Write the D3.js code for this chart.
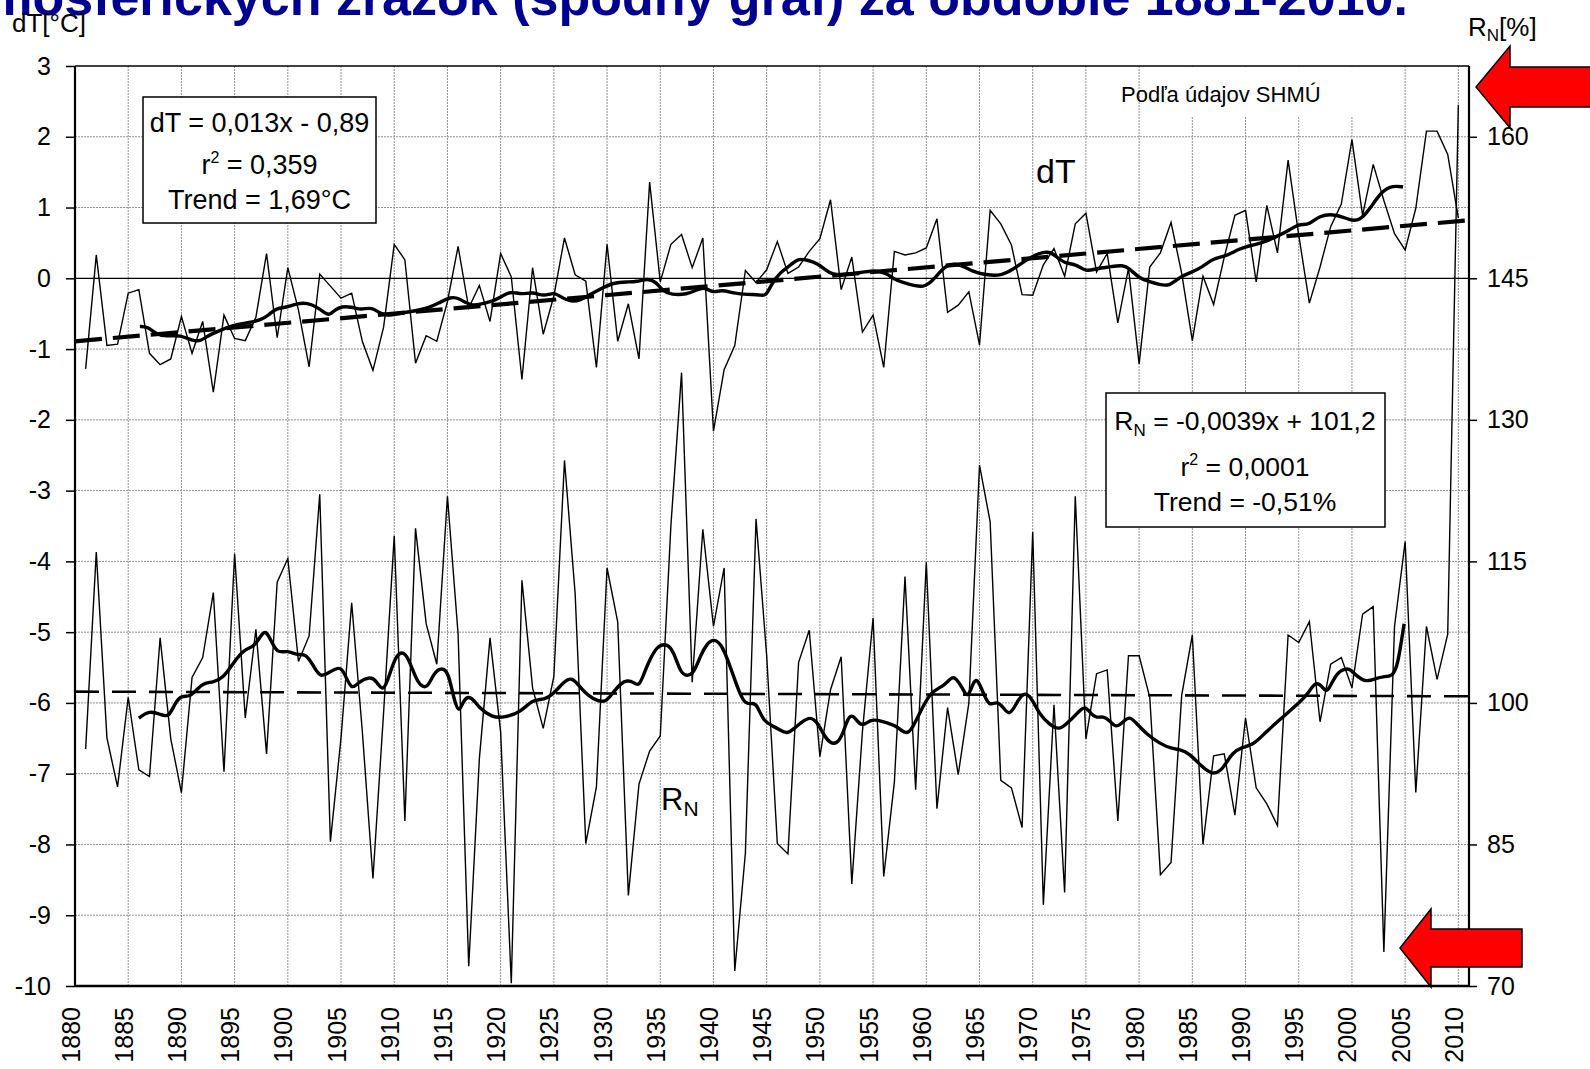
<!DOCTYPE html>
<html>
<head>
<meta charset="utf-8">
<script src="https://cdn.jsdelivr.net/npm/d3@7"></script>
<style>
  body { margin: 0; background: #fff; }
  svg { display: block; font-family: "Liberation Sans", Arial, sans-serif; }
  .grid line { stroke: #8f8f8f; stroke-width: 1; stroke-dasharray: 2,1; }
  .axis text { font-size: 25px; fill: #000; }
  .axis line { stroke: #000; stroke-width: 1.5; }
</style>
</head>
<body>
<script>
// Years of the annual series
let years = d3.range(1881, 2011);

// Temperature deviation dT [°C], annual values 1881-2010
let dT = [
  -1.28, 0.33, -0.95, -0.93, -0.21, -0.16, -1.06, -1.22, -1.14, -0.54,
  -1.06, -0.61, -1.61, -0.52, -0.85, -0.88, -0.55, 0.35, -0.84, 0.15,
  -0.45, -1.25, 0.06, -0.11, -0.28, -0.21, -0.89, -1.30, -0.69, 0.48,
  0.26, -1.20, -0.81, -0.89, -0.33, 0.45, -0.42, -0.10, -0.61, 0.35,
  0.02, -1.43, 0.15, -0.79, -0.25, 0.57, 0.05, -0.04, -1.26, 0.48,
  -0.89, -0.36, -1.14, 1.36, -0.05, 0.48, 0.62, 0.15, 0.57, -2.16,
  -1.29, -0.95, 0.11, -0.06, 0.12, 0.52, 0.07, 0.16, 0.38, 0.56,
  1.11, -0.16, 0.30, -0.76, -0.52, -1.26, 0.38, 0.33, 0.36, 0.43,
  0.84, -0.48, -0.38, -0.19, -0.94, 0.96, 0.77, 0.47, -0.23, -0.24,
  0.19, 0.42, 0.03, 0.77, 0.92, 0.09, 0.35, -0.63, 0.14, -1.21,
  0.16, 0.36, 0.79, 0.07, -0.88, 0.03, -0.37, 0.30, 0.89, 0.96,
  -0.05, 1.03, 0.36, 1.67, 0.61, -0.35, 0.16, 0.73, 1.05, 1.96,
  0.89, 1.61, 1.10, 0.63, 0.40, 0.99, 2.08, 2.08, 1.75, 0.85
];

// Precipitation ratio RN [%], annual values 1881-2010
let rn = [
  95.1, 116.0, 96.3, 91.1, 100.6, 92.9, 92.2, 106.9, 96.2, 90.5,
  102.7, 104.8, 111.7, 92.7, 115.8, 98.4, 107.8, 94.6, 112.8, 115.3,
  104.4, 107.1, 122.1, 85.3, 96.3, 110.6, 97.0, 81.4, 99.0, 117.7,
  87.5, 118.5, 108.4, 104.1, 121.9, 107.3, 72.1, 94.1, 106.9, 96.9,
  70.3, 113.0, 101.6, 97.3, 102.8, 125.7, 111.6, 85.1, 91.1, 114.3,
  108.6, 79.6, 91.4, 94.9, 96.5, 118.8, 135.0, 102.2, 118.4, 108.1,
  114.3, 71.6, 84.1, 119.5, 105.0, 85.1, 84.0, 104.3, 107.7, 94.3,
  101.4, 104.9, 80.8, 97.0, 109.0, 81.6, 91.6, 113.4, 90.8, 114.9,
  88.8, 99.5, 92.4, 100.0, 125.2, 119.2, 91.8, 91.0, 86.8, 118.1,
  78.6, 99.8, 79.9, 121.9, 96.2, 103.1, 103.5, 87.5, 105.0, 105.0,
  100.6, 81.8, 83.1, 100.8, 107.2, 85.0, 94.4, 94.6, 88.1, 98.4,
  91.0, 89.3, 87.0, 107.2, 106.4, 108.6, 98.0, 104.1, 104.8, 101.6,
  109.4, 110.2, 73.6, 108.1, 117.1, 90.5, 108.1, 102.5, 107.3, 163.4
];

// Smoothed dT curve, read as [year, value]
let smoothT = [
  [1886.1,-0.68],[1886.8,-0.68],[1887.7,-0.80],[1888.6,-0.82],[1889.9,-0.80],[1891,-0.88],
  [1891.8,-0.89],[1892.4,-0.82],[1893.4,-0.75],[1894.9,-0.66],[1896.2,-0.63],[1897.5,-0.59],
  [1898.2,-0.52],[1898.9,-0.42],[1900,-0.41],[1900.9,-0.35],[1902.2,-0.35],[1903.5,-0.49],
  [1903.9,-0.53],[1904.7,-0.40],[1906,-0.40],[1906.9,-0.45],[1907.9,-0.40],[1908.8,-0.52],
  [1909.8,-0.52],[1910.7,-0.49],[1912,-0.46],[1913.2,-0.42],[1914.2,-0.35],[1915.3,-0.26],
  [1916.1,-0.28],[1917.2,-0.40],[1918.6,-0.35],[1919.5,-0.31],[1920.5,-0.22],[1921.1,-0.19],
  [1922,-0.23],[1923,-0.19],[1924.1,-0.26],[1925,-0.19],[1925.8,-0.28],[1926.6,-0.33],
  [1927.5,-0.31],[1928.4,-0.23],[1929.4,-0.15],[1930.6,-0.06],[1931.9,-0.05],[1932.8,-0.05],
  [1933.8,0.0],[1934.6,-0.05],[1935.3,-0.19],[1936,-0.23],[1937.5,-0.23],[1938.5,-0.16],
  [1939.1,-0.12],[1940,-0.21],[1940.7,-0.16],[1941.9,-0.21],[1943.2,-0.23],[1944.4,-0.23],
  [1944.9,-0.26],[1945.5,-0.07],[1946.3,0.09],[1947.3,0.19],[1947.9,0.28],[1948.8,0.26],
  [1949.8,0.21],[1950.5,0.12],[1951.2,0.05],[1952.3,0.05],[1953.5,0.07],[1955.1,0.12],
  [1956.3,0.07],[1957,-0.02],[1958.2,-0.08],[1959.8,-0.14],[1960.7,-0.02],[1961.9,0.21],
  [1963.2,0.20],[1964.4,0.09],[1965.6,0.05],[1966.9,0.03],[1968.1,0.12],[1969.4,0.26],
  [1970.6,0.36],[1971.6,0.38],[1972.2,0.31],[1973,0.21],[1974.1,0.20],[1975,0.09],
  [1976,0.14],[1977.2,0.16],[1978.5,0.19],[1979.1,0.14],[1980,0.0],[1981,-0.05],
  [1981.9,-0.09],[1982.9,-0.11],[1983.8,0.02],[1984.7,0.07],[1986,0.16],[1986.9,0.28],
  [1988.2,0.31],[1989.4,0.42],[1990.7,0.47],[1991.9,0.52],[1993.2,0.61],[1994.1,0.68],
  [1995,0.77],[1996,0.75],[1996.9,0.89],[1998.5,0.91],[1999.8,0.82],[2000.7,0.81],
  [2001.6,0.96],[2002.8,1.24],[2003.9,1.31],[2004.8,1.29]
];

// Smoothed RN curve, read as [year, value]
let smoothR = [
  [1886,98.4],[1887,99.2],[1888,98.8],[1888.8,98.4],[1889.4,100.0],[1890,100.8],[1890.8,100.6],
  [1891.5,101.5],[1892.1,102.1],[1893,102.2],[1894,102.7],[1894.9,104.3],[1895.9,105.7],
  [1896.8,105.9],[1897.5,107.2],[1897.9,107.7],[1898.4,106.7],[1899,105.2],[1900,105.6],
  [1900.9,105.0],[1901.7,105.3],[1902.5,103.7],[1903.1,102.7],[1903.8,103.2],[1904.9,103.9],
  [1905.3,103.2],[1906,101.3],[1906.6,102.2],[1907.7,102.8],[1908.3,102.4],[1909,101.0],
  [1909.6,103.2],[1910.2,105.1],[1910.9,105.5],[1911.5,104.3],[1912.2,102.0],[1913.1,101.4],
  [1913.7,103.2],[1914.5,103.8],[1915.1,103.2],[1915.6,100.4],[1916.1,98.8],[1916.5,100.4],
  [1917.2,100.8],[1918,99.4],[1919.2,98.5],[1920.2,98.4],[1921.9,99.0],[1923,100.4],
  [1924.1,100.3],[1925,101.0],[1925.9,102.2],[1926.7,102.8],[1927.5,101.6],[1928.3,100.7],
  [1929.1,100.2],[1929.9,100.1],[1930.5,101.0],[1931.3,102.1],[1931.9,102.4],[1932.5,102.2],
  [1933,101.7],[1933.5,103.2],[1933.9,104.3],[1934.7,106.1],[1935.7,106.3],[1936.3,105.3],
  [1936.9,103.2],[1937.5,102.8],[1938.2,103.2],[1938.8,105.1],[1939.4,106.3],[1940,106.8],
  [1940.7,106.3],[1941.3,104.7],[1941.9,102.8],[1942.4,101.2],[1943,99.8],[1943.7,100.0],
  [1944.1,99.8],[1944.7,98.0],[1945.7,97.5],[1946.3,97.1],[1946.9,96.7],[1947.6,97.3],
  [1948.2,97.9],[1949.1,98.6],[1949.8,97.9],[1950.4,96.5],[1951,95.7],[1951.6,95.7],
  [1952.1,96.5],[1952.6,98.4],[1953.1,98.8],[1953.7,97.7],[1954.2,97.7],[1954.8,98.2],
  [1955.4,98.2],[1956.3,97.9],[1957.3,97.5],[1958.1,96.6],[1958.7,97.3],[1959.5,99.2],
  [1960.4,101.2],[1961.7,101.8],[1962.4,102.8],[1962.8,102.6],[1963.4,101.6],[1963.9,100.4],
  [1964.4,102.2],[1964.8,102.6],[1965.3,101.2],[1965.9,99.6],[1966.6,100.2],[1967.2,99.6],
  [1967.8,98.6],[1968.4,99.8],[1969.1,101.2],[1969.9,100.6],[1970.6,98.8],[1971.6,97.7],
  [1972.5,97.1],[1973.3,97.9],[1974.1,98.8],[1974.9,99.8],[1975.5,98.8],[1976,98.4],
  [1976.6,98.6],[1977.2,98.2],[1977.8,97.3],[1978.5,98.0],[1979.1,98.6],[1979.7,97.9],
  [1980.7,96.7],[1981.9,95.7],[1983.2,95.1],[1983.8,95.1],[1984.7,94.7],[1986,93.1],
  [1986.9,92.4],[1987.7,92.8],[1988.2,93.7],[1988.8,94.7],[1989.6,95.3],[1990.7,95.5],
  [1991.9,96.9],[1993.2,98.2],[1994.4,99.4],[1995.8,100.8],[1996.6,102.4],[1997.3,101.6],
  [1997.7,101.0],[1998.5,103.2],[1999.5,103.7],[1999.9,103.5],[2000.5,102.8],[2001.3,102.2],
  [2002.3,102.6],[2002.9,102.8],[2003.8,102.8],[2004.3,103.9],[2004.9,108.4]
];

// Linear trends, endpoints read at the plot edges
let trendT = [[1880, -0.89], [2011, 0.82]];
let trendR = [[1880, 101.2], [2011, 100.7]];

// Axis ticks
let tTicks = d3.range(-10, 4);
let rTicks = [70, 85, 100, 115, 130, 145, 160];
let yearTicks = d3.range(1880, 2011, 5);

let W = 1590, H = 1069;
let pL = 75, pR = 1469, pT = 66, pB = 986;

let svg = d3.select("body").append("svg")
  .attr("width", W)
  .attr("height", H);

svg.append("rect").attr("width", W).attr("height", H).attr("fill", "#fff");

// Scales
let x = d3.scaleLinear().domain([1880, 2011]).range([pL, pR]);
let yT = d3.scaleLinear().domain([-10, 3]).range([pB, pT]);
let yR = d3.scaleLinear().domain([70, 167.5]).range([pB, pT]);

// Title (its upper part is cut by the top edge, as in the slide)
svg.append("text")
  .attr("x", 1408)
  .attr("y", 15)
  .attr("text-anchor", "end")
  .attr("font-size", 52)
  .attr("font-weight", "bold")
  .attr("fill", "#000090")
  .text("atmosférických zrážok (spodný graf) za obdobie 1881-2010.");

// Grid
let grid = svg.append("g").attr("class", "grid");
grid.selectAll(".v")
  .data(yearTicks.filter(d => d > 1880))
  .join("line")
  .attr("x1", d => x(d)).attr("x2", d => x(d))
  .attr("y1", pT).attr("y2", pB);
grid.selectAll(".h")
  .data(tTicks.filter(d => d !== 0 && d > -10 && d < 3))
  .join("line")
  .attr("x1", pL).attr("x2", pR)
  .attr("y1", d => yT(d)).attr("y2", d => yT(d));

// Source note with white background
svg.append("rect")
  .attr("x", 1150).attr("y", pT + 1)
  .attr("width", 230).attr("height", 50)
  .attr("fill", "#fff");
svg.append("text")
  .attr("x", 1121).attr("y", 102)
  .attr("font-size", 22)
  .text("Podľa údajov SHMÚ");

// Zero line
svg.append("line")
  .attr("x1", pL).attr("x2", pR)
  .attr("y1", yT(0)).attr("y2", yT(0))
  .attr("stroke", "#000").attr("stroke-width", 1.3);

// Lines
let tData = years.map((y, i) => ({ year: y, v: dT[i] }));
let rData = years.map((y, i) => ({ year: y, v: rn[i] }));

let lineT = d3.line().x(d => x(d.year)).y(d => yT(d.v));
let lineR = d3.line().x(d => x(d.year)).y(d => yR(d.v));
let smoothLineT = d3.line().curve(d3.curveBasis).x(d => x(d[0])).y(d => yT(d[1]));
let smoothLineR = d3.line().curve(d3.curveBasis).x(d => x(d[0])).y(d => yR(d[1]));
let straightT = d3.line().x(d => x(d[0])).y(d => yT(d[1]));
let straightR = d3.line().x(d => x(d[0])).y(d => yR(d[1]));

svg.append("path")
  .datum(rData)
  .attr("fill", "none").attr("stroke", "#000").attr("stroke-width", 1.4)
  .attr("d", lineR);

svg.append("path")
  .datum(tData)
  .attr("fill", "none").attr("stroke", "#000").attr("stroke-width", 1.4)
  .attr("d", lineT);

svg.append("path")
  .datum(trendR)
  .attr("fill", "none").attr("stroke", "#000").attr("stroke-width", 2.6)
  .attr("stroke-dasharray", "24,13")
  .attr("d", straightR);

svg.append("path")
  .datum(trendT)
  .attr("fill", "none").attr("stroke", "#000").attr("stroke-width", 4.2)
  .attr("stroke-dasharray", "27,11")
  .attr("d", straightT);

svg.append("path")
  .datum(smoothR)
  .attr("fill", "none").attr("stroke", "#000").attr("stroke-width", 3.4)
  .attr("stroke-linejoin", "round")
  .attr("d", smoothLineR);

svg.append("path")
  .datum(smoothT)
  .attr("fill", "none").attr("stroke", "#000").attr("stroke-width", 3.4)
  .attr("stroke-linejoin", "round")
  .attr("d", smoothLineT);

// Frame
svg.append("line").attr("x1", pL).attr("x2", pR).attr("y1", pT).attr("y2", pT)
  .attr("stroke", "#000").attr("stroke-width", 1.5);
svg.append("line").attr("x1", pL).attr("x2", pR).attr("y1", pB).attr("y2", pB)
  .attr("stroke", "#000").attr("stroke-width", 2.4);
svg.append("line").attr("x1", pL).attr("x2", pL).attr("y1", pT).attr("y2", pB)
  .attr("stroke", "#000").attr("stroke-width", 2.2);
svg.append("line").attr("x1", pR).attr("x2", pR).attr("y1", pT).attr("y2", pB)
  .attr("stroke", "#000").attr("stroke-width", 2.2);

// Axes
let leftAxis = d3.axisLeft(yT).tickValues(tTicks).tickSize(9).tickPadding(15)
  .tickFormat(d => String(d));
svg.append("g").attr("class", "axis")
  .attr("transform", "translate(" + pL + ",0)")
  .call(leftAxis)
  .call(g => g.select(".domain").remove());

let rightAxis = d3.axisRight(yR).tickValues(rTicks).tickSize(8).tickPadding(10);
svg.append("g").attr("class", "axis")
  .attr("transform", "translate(" + pR + ",0)")
  .call(rightAxis)
  .call(g => g.select(".domain").remove());

let bottomAxis = d3.axisBottom(x).tickValues(yearTicks).tickSize(0).tickFormat(d => String(d));
svg.append("g").attr("class", "axis")
  .attr("transform", "translate(0," + pB + ")")
  .call(bottomAxis)
  .call(g => g.select(".domain").remove())
  .selectAll("text")
  .attr("transform", "rotate(-90)")
  .attr("text-anchor", "end")
  .attr("x", -21)
  .attr("y", 4)
  .attr("dy", 0)
  .attr("font-size", 26);

// Axis titles
svg.append("text")
  .attr("x", 12).attr("y", 32)
  .attr("font-size", 26)
  .text("dT[°C]");

let rTitle = svg.append("text")
  .attr("x", 1468).attr("y", 36)
  .attr("font-size", 26);
rTitle.append("tspan").text("R");
rTitle.append("tspan").attr("font-size", 17).attr("dy", 5).text("N");
rTitle.append("tspan").attr("dy", -5).text("[%]");

// Series labels
svg.append("text")
  .attr("x", 1036).attr("y", 183)
  .attr("font-size", 34)
  .text("dT");

let rLabel = svg.append("text")
  .attr("x", 661).attr("y", 810)
  .attr("font-size", 31);
rLabel.append("tspan").text("R");
rLabel.append("tspan").attr("font-size", 21).attr("dy", 6).text("N");

// Equation boxes
let box1 = svg.append("g");
box1.append("rect")
  .attr("x", 143).attr("y", 97).attr("width", 233).attr("height", 126)
  .attr("fill", "#fff").attr("stroke", "#000").attr("stroke-width", 1.5);
box1.append("text").attr("x", 259.5).attr("y", 132).attr("text-anchor", "middle")
  .attr("font-size", 27).text("dT = 0,013x - 0,89");
let b1r = box1.append("text").attr("x", 259.5).attr("y", 174).attr("text-anchor", "middle")
  .attr("font-size", 27);
b1r.append("tspan").text("r");
b1r.append("tspan").attr("font-size", 16).attr("dy", -11).text("2");
b1r.append("tspan").attr("dy", 11).text(" = 0,359");
box1.append("text").attr("x", 259.5).attr("y", 209).attr("text-anchor", "middle")
  .attr("font-size", 27).text("Trend = 1,69°C");

let box2 = svg.append("g");
box2.append("rect")
  .attr("x", 1106).attr("y", 393).attr("width", 279).attr("height", 134)
  .attr("fill", "#fff").attr("stroke", "#000").attr("stroke-width", 1.5);
let b2a = box2.append("text").attr("x", 1245).attr("y", 430).attr("text-anchor", "middle")
  .attr("font-size", 26.5);
b2a.append("tspan").text("R");
b2a.append("tspan").attr("font-size", 17).attr("dy", 6).text("N");
b2a.append("tspan").attr("dy", -6).text(" = -0,0039x + 101,2");
let b2r = box2.append("text").attr("x", 1245).attr("y", 476).attr("text-anchor", "middle")
  .attr("font-size", 26.5);
b2r.append("tspan").text("r");
b2r.append("tspan").attr("font-size", 16).attr("dy", -11).text("2");
b2r.append("tspan").attr("dy", 11).text(" = 0,0001");
box2.append("text").attr("x", 1245).attr("y", 511).attr("text-anchor", "middle")
  .attr("font-size", 26.5).text("Trend = -0,51%");

// Red arrows
let arrows = [
  [[1476, 87], [1510, 46], [1510, 67], [1600, 67], [1600, 107], [1510, 107], [1510, 128]],
  [[1400, 948], [1431, 909], [1431, 929], [1522, 929], [1522, 967], [1431, 967], [1431, 987]]
];
svg.selectAll(".arrow")
  .data(arrows)
  .join("polygon")
  .attr("points", d => d.map(p => p.join(",")).join(" "))
  .attr("fill", "#ff0000")
  .attr("stroke", "#000")
  .attr("stroke-width", 1.5);
</script>
</body>
</html>
